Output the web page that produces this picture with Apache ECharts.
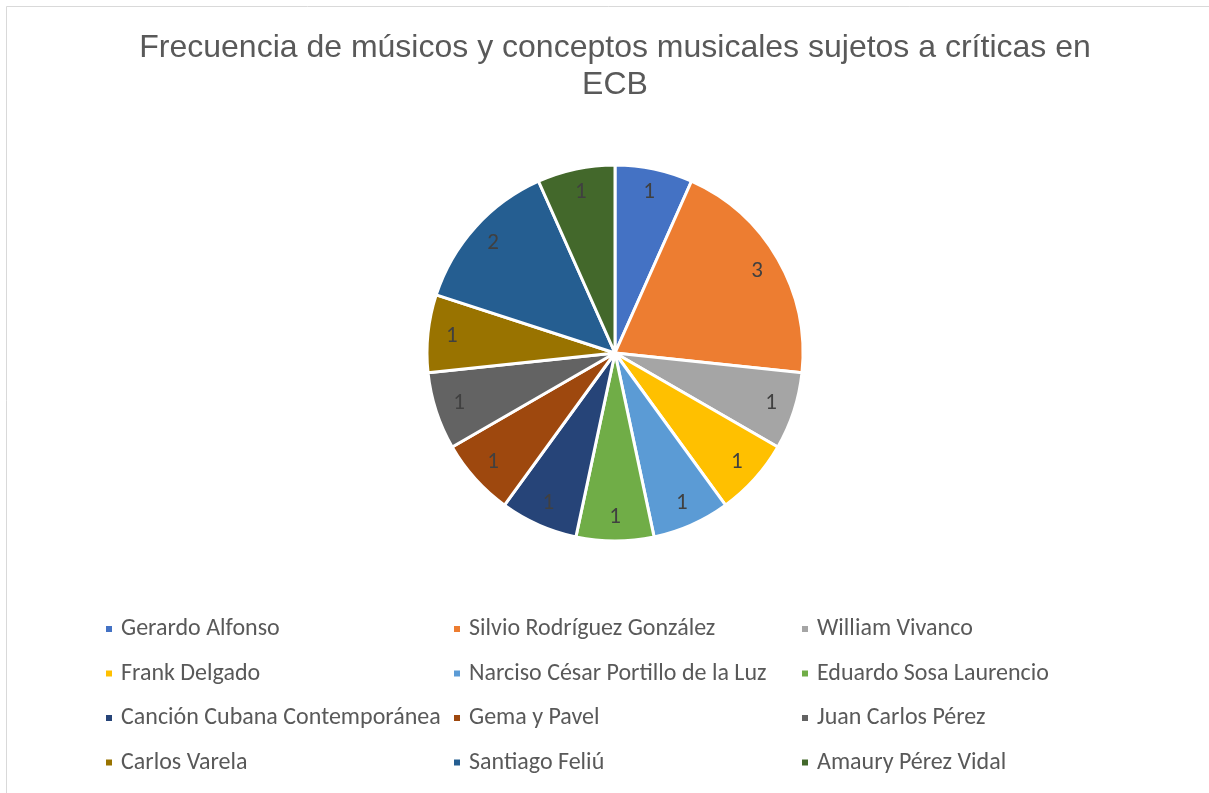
<!DOCTYPE html>
<html>
<head>
<meta charset="utf-8">
<script src="https://cdn.jsdelivr.net/npm/echarts@6/dist/echarts.min.js"></script>
<style>
  html, body { margin: 0; padding: 0; background: #fff; }
  #chart { width: 1209px; height: 793px; }
</style>
</head>
<body>
<div id="chart"></div>
<script>
// Músicos y conceptos musicales, con su número de críticas en ECB
const nombres = [
  'Gerardo Alfonso', 'Silvio Rodríguez González', 'William Vivanco',
  'Frank Delgado', 'Narciso César Portillo de la Luz', 'Eduardo Sosa Laurencio',
  'Canción Cubana Contemporánea', 'Gema y Pavel', 'Juan Carlos Pérez',
  'Carlos Varela', 'Santiago Feliú', 'Amaury Pérez Vidal'
];
const frecuencias = [1, 3, 1, 1, 1, 1, 1, 1, 1, 1, 2, 1];
const colores = [
  '#4472C4', '#ED7D31', '#A5A5A5', '#FFC000', '#5B9BD5', '#70AD47',
  '#264478', '#9E480E', '#636363', '#997300', '#255E91', '#43682B'
];
const tituloLineas = [
  'Frecuencia de músicos y conceptos musicales sujetos a críticas en',
  'ECB'
];

const datos = nombres.map((n, i) => ({ name: n, value: frecuencias[i], itemStyle: { color: colores[i] } }));
const fuente = 'Carlito, Calibri, Lato, sans-serif';

// legend laid out as three columns, filled row by row
function columna(c, x) {
  return {
    orient: 'vertical',
    left: x,
    top: 617,
    padding: 0,
    itemWidth: 8,
    itemHeight: 8,
    itemGap: 20.5,
    icon: 'rect',
    data: nombres.filter((_, i) => i % 3 === c),
    textStyle: { color: '#595959', fontSize: 24, fontFamily: fuente, lineHeight: 24, padding: [0, 0, 0, 3] }
  };
}

const chart = echarts.init(document.getElementById('chart'), null, { renderer: 'canvas' });
chart.setOption({
  backgroundColor: '#ffffff',
  animation: false,
  title: {
    text: tituloLineas.join('\n'),
    left: 610,
    top: 25,
    textAlign: 'center',
    textStyle: {
      color: '#595959',
      fontSize: 32,
      fontWeight: 'normal',
      fontFamily: '"Liberation Sans", Arial, sans-serif',
      lineHeight: 37
    }
  },
  graphic: [{
    type: 'rect',
    shape: { x: 6.5, y: 6.5, width: 1300, height: 900 },
    style: { fill: 'none', stroke: '#D9D9D9', lineWidth: 1 },
    silent: true,
    z: -1
  }],
  legend: [columna(0, 104), columna(1, 452), columna(2, 800)],
  series: [
    {
      type: 'pie',
      center: [615, 353],
      radius: [0, 188],
      startAngle: 90,
      clockwise: true,
      data: datos,
      label: { show: false },
      labelLine: { show: false },
      itemStyle: { borderColor: '#ffffff', borderWidth: 3 },
      emphasis: { scale: false }
    },
    {
      // value labels sit near the outer edge of each slice
      type: 'pie',
      center: [615, 353],
      radius: [134, 188],
      startAngle: 90,
      clockwise: true,
      silent: true,
      data: datos.map(d => ({ name: d.name, value: d.value })),
      itemStyle: { color: 'rgba(0,0,0,0)', borderWidth: 0 },
      label: {
        show: true,
        position: 'inside',
        formatter: '{c}',
        color: '#404040',
        fontSize: 23,
        fontFamily: fuente
      },
      labelLine: { show: false },
      emphasis: { disabled: true }
    }
  ]
});
</script>
</body>
</html>
